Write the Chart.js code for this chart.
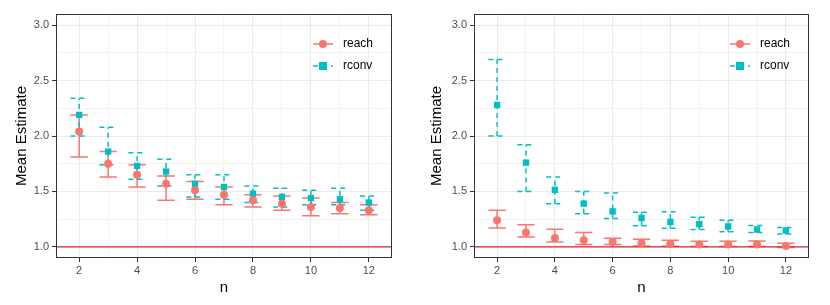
<!DOCTYPE html>
<html>
<head>
<meta charset="utf-8">
<script src="https://cdn.jsdelivr.net/npm/chart.js@4"></script>
<style>
  body { margin: 0; background: #fff; }
  #wrap { display: flex; width: 830px; height: 305px; }
  .panel { position: relative; width: 415px; height: 305px; }
</style>
</head>
<body>
<div id="wrap">
  <div class="panel"><canvas id="leftChart"></canvas></div>
  <div class="panel"><canvas id="rightChart"></canvas></div>
</div>
<script>
// data
const nValues = [2, 3, 4, 5, 6, 7, 8, 9, 10, 11, 12];

const leftReachMean = [2.04, 1.75, 1.65, 1.57, 1.51, 1.47, 1.42, 1.39, 1.36, 1.35, 1.33];
const leftReachLow  = [1.81, 1.63, 1.54, 1.42, 1.43, 1.38, 1.36, 1.33, 1.28, 1.30, 1.29];
const leftReachHigh = [2.19, 1.86, 1.74, 1.64, 1.59, 1.54, 1.47, 1.46, 1.44, 1.40, 1.38];

const leftRconvMean = [2.19, 1.86, 1.73, 1.68, 1.57, 1.54, 1.48, 1.45, 1.44, 1.43, 1.40];
const leftRconvLow  = [2.00, 1.74, 1.61, 1.55, 1.45, 1.43, 1.40, 1.36, 1.38, 1.38, 1.33];
const leftRconvHigh = [2.34, 2.08, 1.85, 1.79, 1.65, 1.65, 1.55, 1.53, 1.51, 1.53, 1.46];

const rightReachMean = [1.24, 1.13, 1.08, 1.06, 1.045, 1.033, 1.027, 1.021, 1.021, 1.021, 1.009];
const rightReachLow  = [1.17, 1.09, 1.045, 1.021, 1.021, 1.009, 1.006, 1.003, 1.003, 1.003, 0.994];
const rightReachHigh = [1.33, 1.20, 1.16, 1.13, 1.078, 1.069, 1.06, 1.051, 1.051, 1.054, 1.033];

const rightRconvMean = [2.28, 1.76, 1.515, 1.39, 1.32, 1.26, 1.225, 1.205, 1.185, 1.157, 1.148];
const rightRconvLow  = [2.00, 1.50, 1.39, 1.30, 1.256, 1.19, 1.169, 1.157, 1.136, 1.13, 1.117];
const rightRconvHigh = [2.69, 1.92, 1.63, 1.50, 1.485, 1.313, 1.316, 1.268, 1.241, 1.193, 1.175];

const xTicks = [2, 3, 4, 5, 6, 7, 8, 9, 10, 11, 12];
const yTicks = [1, 1.25, 1.5, 1.75, 2, 2.25, 2.5, 2.75, 3];
const refLine = 1;

const reachColor = '#F8766D';
const rconvColor = '#00BFC4';
const FONT = '"Liberation Sans", Arial, sans-serif';


// error bars + reference line + legend + border
const panelExtras = {
  id: 'panelExtras',
  beforeDatasetsDraw(chart) {
    const { ctx, chartArea: area, scales: { x, y } } = chart;
    ctx.save();
    ctx.beginPath();
    ctx.rect(area.left, area.top, area.right - area.left, area.bottom - area.top);
    ctx.clip();

    chart.data.datasets.forEach((ds) => {
      ctx.strokeStyle = ds.borderColor;
      ctx.lineWidth = 1.5;
      ctx.setLineDash(ds.dashed ? [5, 4] : []);
      ds.data.forEach((p, i) => {
        const px = x.getPixelForValue(p.x);
        const x0 = x.getPixelForValue(p.x - 0.3);
        const x1 = x.getPixelForValue(p.x + 0.3);
        const yl = y.getPixelForValue(ds.low[i]);
        const yh = y.getPixelForValue(ds.high[i]);
        ctx.beginPath();
        ctx.moveTo(px, yl); ctx.lineTo(px, yh);
        ctx.moveTo(x0, yl); ctx.lineTo(x1, yl);
        ctx.moveTo(x0, yh); ctx.lineTo(x1, yh);
        ctx.stroke();
      });
    });
    ctx.setLineDash([]);

    // y = 1 line
    const yr = y.getPixelForValue(refLine);
    ctx.strokeStyle = '#DE2127';
    ctx.lineWidth = 1.3;
    ctx.beginPath();
    ctx.moveTo(area.left, yr);
    ctx.lineTo(area.right, yr);
    ctx.stroke();
    ctx.restore();
  },
  afterDraw(chart) {
    const { ctx, chartArea: area } = chart;
    ctx.save();

    // legend
    const kx0 = area.right - 79, kx1 = area.right - 59, kc = (kx0 + kx1) / 2;
    chart.data.datasets.forEach((ds, i) => {
      const ky = area.top + 30 + i * 22;
      ctx.strokeStyle = ds.borderColor;
      ctx.lineWidth = 1.5;
      ctx.setLineDash(ds.dashed ? [5, 4] : []);
      ctx.beginPath();
      ctx.moveTo(kx0, ky); ctx.lineTo(kx1, ky);
      ctx.stroke();
      ctx.setLineDash([]);
      ctx.fillStyle = ds.backgroundColor;
      if (ds.pointStyle === 'rect') {
        ctx.fillRect(kc - 4, ky - 4, 8, 8);
      } else {
        ctx.beginPath();
        ctx.arc(kc, ky, 4, 0, Math.PI * 2);
        ctx.fill();
      }
      ctx.fillStyle = '#000';
      ctx.font = '12px ' + FONT;
      ctx.textAlign = 'left';
      ctx.textBaseline = 'middle';
      ctx.fillText(ds.label, area.right - 49, ky);
    });

    // panel border
    ctx.strokeStyle = '#333333';
    ctx.lineWidth = 1;
    ctx.strokeRect(area.left + 0.5, area.top + 0.5, area.right - area.left - 1, area.bottom - area.top - 1);
    ctx.restore();
  }
};

function makeDataset(label, mean, low, high, color, style, dashed) {
  return {
    label: label,
    data: nValues.map((n, i) => ({ x: n, y: mean[i] })),
    low: low,
    high: high,
    dashed: dashed,
    backgroundColor: color,
    borderColor: color,
    pointStyle: style,
    pointRadius: style === 'rect' ? 4.5 : 4,
    pointHoverRadius: 4,
    pointBorderWidth: 0,
    showLine: false
  };
}

function makeChart(id, yWidth, rightPad, reach, rconv) {
  return new Chart(document.getElementById(id), {
    type: 'scatter',
    data: {
      datasets: [
        makeDataset('reach', reach[0], reach[1], reach[2], reachColor, 'circle', false),
        makeDataset('rconv', rconv[0], rconv[1], rconv[2], rconvColor, 'rect', true)
      ]
    },
    options: {
      responsive: false,
      animation: false,
      events: [],
      layout: { padding: { left: 0, right: rightPad, top: 14, bottom: 0 } },
      plugins: {
        legend: { display: false },
        tooltip: { enabled: false }
      },
      scales: {
        x: {
          type: 'linear',
          min: 1.2,
          max: 12.8,
          afterBuildTicks: (scale) => { scale.ticks = xTicks.map(v => ({ value: v })); },
          afterFit: (scale) => { scale.height = 47; },
          ticks: {
            color: '#4D4D4D',
            font: { family: FONT, size: 11 },
            padding: 2,
            maxRotation: 0,
            autoSkip: false,
            callback: (v) => (v % 2 === 0 ? String(v) : '')
          },
          grid: {
            color: '#EBEBEB',
            lineWidth: (c) => (c.tick && c.tick.value % 2 === 0 ? 1 : 0.6),
            tickLength: 4,
            tickColor: (c) => (c.tick && c.tick.value % 2 === 0 ? '#333333' : 'rgba(0,0,0,0)')
          },
          border: { display: false },
          title: {
            display: true,
            text: 'n',
            color: '#000',
            font: { family: FONT, size: 15 },
            padding: { top: 0, bottom: 8 }
          }
        },
        y: {
          type: 'linear',
          min: 0.9,
          max: 3.1,
          afterBuildTicks: (scale) => { scale.ticks = yTicks.map(v => ({ value: v })); },
          afterFit: (scale) => { scale.width = yWidth; },
          ticks: {
            color: '#4D4D4D',
            font: { family: FONT, size: 11 },
            padding: 3,
            callback: (v) => (Math.abs(v * 2 - Math.round(v * 2)) < 1e-6 ? v.toFixed(1) : '')
          },
          grid: {
            color: '#EBEBEB',
            lineWidth: (c) => (c.tick && Math.abs(c.tick.value * 2 - Math.round(c.tick.value * 2)) < 1e-6 ? 1 : 0.6),
            tickLength: 4,
            tickColor: (c) => (c.tick && Math.abs(c.tick.value * 2 - Math.round(c.tick.value * 2)) < 1e-6 ? '#333333' : 'rgba(0,0,0,0)')
          },
          border: { display: false },
          title: {
            display: true,
            text: 'Mean Estimate',
            color: '#000',
            font: { family: FONT, size: 15 },
            padding: { top: 13, bottom: 0 }
          }
        }
      }
    },
    plugins: [panelExtras]
  });
}

document.getElementById('leftChart').width = 415;
document.getElementById('leftChart').height = 305;
document.getElementById('rightChart').width = 415;
document.getElementById('rightChart').height = 305;

makeChart('leftChart', 56, 23,
  [leftReachMean, leftReachLow, leftReachHigh],
  [leftRconvMean, leftRconvLow, leftRconvHigh]);

makeChart('rightChart', 59, 21,
  [rightReachMean, rightReachLow, rightReachHigh],
  [rightRconvMean, rightRconvLow, rightRconvHigh]);
</script>
</body>
</html>
